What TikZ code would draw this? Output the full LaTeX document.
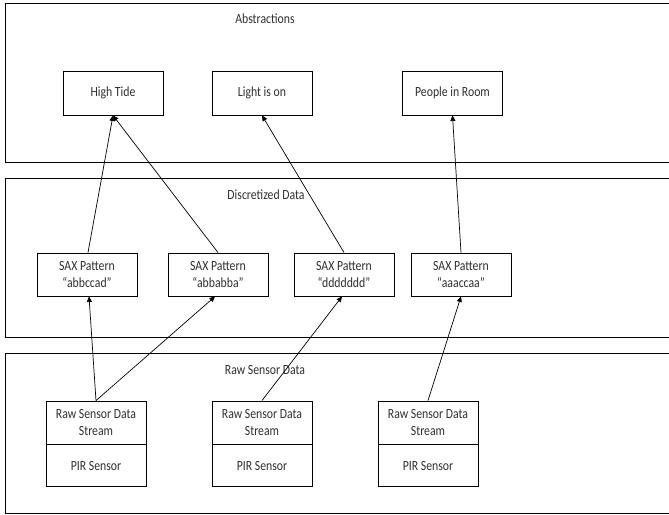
\documentclass[tikz,border=0pt]{standalone}
\usepackage{fontspec}
\setmainfont{Carlito}[FakeStretch=0.84]
\usetikzlibrary{arrows.meta}
\definecolor{txt}{HTML}{303030}
\tikzset{
  panel/.style={draw=black, line width=1pt},
  box/.style={draw=black, line width=0.9pt, fill=white, minimum width=100pt,
    minimum height=43pt, inner sep=0pt, align=center, text=txt,
    font=\fontsize{14}{17.3}\selectfont},
  title/.style={text=txt, font=\fontsize{14}{17.3}\selectfont, inner sep=0pt},
  link/.style={line width=0.7pt, -{Triangle[length=5.5pt,width=5pt]}}
}
\begin{document}
\begin{tikzpicture}[x=1pt, y=-1pt]
\useasboundingbox (0,0) rectangle (669,514);
\clip (0,0) rectangle (669,514);

% layer panels (they run past the right edge)
\draw[panel] (5,3) rectangle (700,162);
\draw[panel] (5,178) rectangle (700,337);
\draw[panel] (5,353) rectangle (700,513);

\node[title] (tAbs) at (265,19) {Abstractions};
\node[title] (tDis) at (266,195) {Discretized Data};
\node[title] (tRaw) at (265,370) {Raw Sensor Data};

% abstractions
\node[box, minimum height=44pt] (high)   at (113,93)   {High Tide};
\node[box, minimum height=44pt] (light)  at (262,93)   {Light is on};
\node[box, minimum height=44pt] (people) at (452.5,93) {People in Room};

% discretized patterns
\node[box] (sax1) at (87,274.5)  {SAX Pattern\\“abbccad”};
\node[box] (sax2) at (218,274.5) {SAX Pattern\\“abbabba”};
\node[box] (sax3) at (344,274.5) {SAX Pattern\\“ddddddd”};
\node[box] (sax4) at (461,274.5) {SAX Pattern\\“aaaccaa”};

% raw sensor streams
\node[box] (raw1) at (96,422.5)  {Raw Sensor Data\\Stream};
\node[box] (raw2) at (262,422.5) {Raw Sensor Data\\Stream};
\node[box] (raw3) at (428,422.5) {Raw Sensor Data\\Stream};
\node[box, minimum height=42pt, anchor=north] (pir1) at (raw1.south) {PIR Sensor};
\node[box, minimum height=42pt, anchor=north] (pir2) at (raw2.south) {PIR Sensor};
\node[box, minimum height=42pt, anchor=north] (pir3) at (raw3.south) {PIR Sensor};

% raw -> discretized
\draw[link] (raw1.north) -- ([xshift=2pt]sax1.south);
\draw[link] (raw1.north) -- ([xshift=-3pt]sax2.south);
\draw[link] (raw2.north) -- ([xshift=-2pt]sax3.south);
\draw[link] (raw3.north) -- (sax4.south);

% discretized -> abstractions
\draw[link] ([xshift=1pt]sax1.north) -- (high.south);
\draw[link] (sax2.north) -- (high.south);
\draw[link] (sax3.north) -- (light.south);
\draw[link] (sax4.north) -- (people.south);
\end{tikzpicture}
\end{document}
